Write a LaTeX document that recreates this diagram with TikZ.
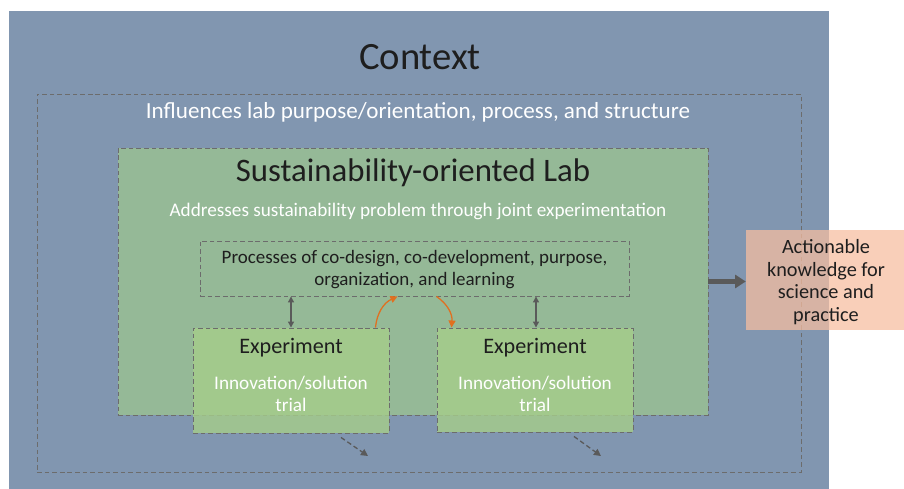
\documentclass[tikz,border=0pt]{standalone}
\usepackage{fontspec}
\setmainfont{Carlito}
\usepackage{xcolor}
\usetikzlibrary{arrows.meta,calc}

\definecolor{ctxblue}{RGB}{129,150,176}
\definecolor{labgreen}{RGB}{149,185,151}
\definecolor{expgreen}{RGB}{166,206,138}
\definecolor{peach}{RGB}{247,190,160}
\definecolor{dashgray}{RGB}{108,108,108}
\definecolor{arrowgray}{RGB}{90,90,90}
\definecolor{loopor}{RGB}{224,112,32}
\definecolor{darktext}{RGB}{30,30,30}

\newcommand{\fs}[2]{\fontsize{#1}{#2}\selectfont}

\begin{document}
\begin{tikzpicture}[x=0.03cm, y=-0.03cm,
    frame/.style={draw=dashgray, dash pattern=on 4pt off 2.5pt, line width=0.8pt, inner sep=0pt},
    txt/.style={align=center, inner sep=0pt},
    twoway/.style={{Triangle[length=5pt,width=5pt]}-{Triangle[length=5pt,width=5pt]}, arrowgray, line width=1.1pt},
    feedback/.style={-{Triangle[length=6pt,width=6pt]}, loopor, line width=1.1pt},
    spill/.style={-{Triangle[length=6pt,width=6pt]}, arrowgray, dash pattern=on 4pt off 2.5pt, line width=1.1pt}
]
    \useasboundingbox (0,0) rectangle (904,489);
    \fill[white] (0,0) rectangle (904,489);

    % Context
    \node[fill=ctxblue, minimum width=24.6cm, minimum height=14.34cm, inner sep=0pt] (ctx) at (419,250) {};
    \node[txt, darktext, font=\fs{33}{38}] (ctxtitle) at (420,57) {Context};
    \node[frame, minimum width=22.92cm, minimum height=11.34cm] (infl) at (419,283) {};
    \node[txt, white, font=\fs{19.7}{23}] (infltext) at (418,112) {Influences lab purpose/orientation, process, and structure};

    % Lab
    \node[frame, fill=labgreen, minimum width=17.7cm, minimum height=8.01cm] (lab) at (413,281.5) {};
    \node[txt, darktext, font=\fs{28}{32}] (labtitle) at (413,173) {Sustainability-oriented Lab};
    \node[txt, white, font=\fs{16.4}{19}] (labtext) at (418,211) {Addresses sustainability problem through joint experimentation};

    % Processes
    \node[frame, minimum width=12.87cm, minimum height=1.65cm] (proc) at (414.5,268.5) {};
    \node[txt, darktext, font=\fs{16.2}{19.2}] (proctext) at (414.5,269.5) {Processes of co-design, co-development, purpose,\\organization, and learning};

    % Experiments
    \node[frame, fill=expgreen, fill opacity=0.8, minimum width=5.88cm, minimum height=3.15cm] (exA) at (291,380.5) {};
    \node[frame, fill=expgreen, fill opacity=0.8, minimum width=5.88cm, minimum height=3.12cm] (exB) at (535,380) {};
    \node[txt, darktext, font=\fs{18.9}{22}] (exAtitle) at (291,348) {Experiment};
    \node[txt, darktext, font=\fs{18.9}{22}] (exBtitle) at (535,348) {Experiment};
    \node[txt, white, font=\fs{16.4}{19}] (exAtext) at (291,394) {Innovation/solution\\trial};
    \node[txt, white, font=\fs{16.4}{19}] (exBtext) at (535,394) {Innovation/solution\\trial};

    % Output
    \node[fill=peach, fill opacity=0.73, minimum width=4.74cm, minimum height=3cm, inner sep=0pt] (out) at (825,280) {};
    \node[txt, darktext, font=\fs{17.3}{19.4}] (outtext) at (826,282) {Actionable\\knowledge for\\science and\\practice};

    % Links between processes and experiments
    \draw[twoway] (exA.north |- proc.south) -- (exA.north);
    \draw[twoway] ($(exB.north |- proc.south)+(1,0)$) -- ($(exB.north)+(1,0)$);
    \draw[feedback] ($(exA.north east)+(-14,0)$) to[bend left=30] ($(proc.south)+(-17,0)$);
    \draw[feedback] ($(proc.south)+(22,0)$) to[bend left=30] ($(exB.north west)+(15,0)$);

    % Spill-over
    \coordinate (spillA) at (368,456);
    \coordinate (spillB) at (601,456);
    \draw[spill] ($(exA.south)+(50,4)$) -- (spillA);
    \draw[spill] ($(exB.south)+(39,4)$) -- (spillB);

    % Knowledge output
    \draw[-{Triangle[length=9pt,width=11pt]}, arrowgray, line width=4pt] (lab.east) -- (out.west |- lab.east);
\end{tikzpicture}
\end{document}
